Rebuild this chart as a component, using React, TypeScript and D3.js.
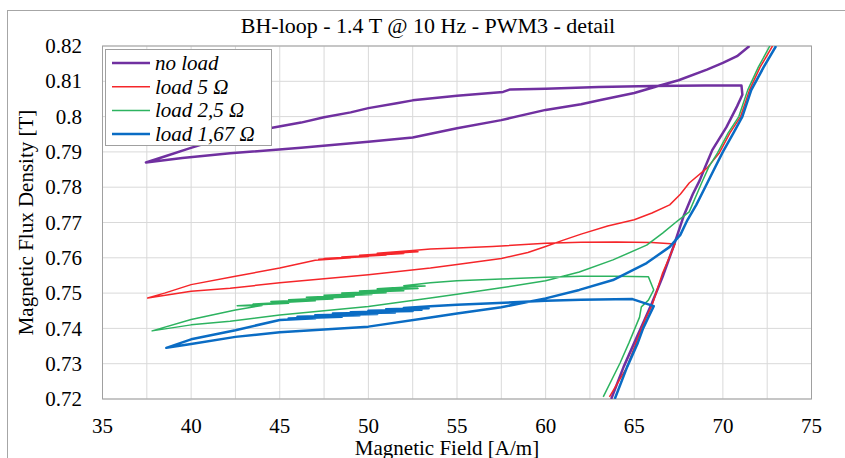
import React from 'react';
import * as d3 from 'd3';

type Pt = [number, number];

// H [A/m], B [T], in path order
const noLoad: Pt[] = [
  [63.7, 0.72], [64.4, 0.7291], [65.0, 0.7359], [65.5, 0.7415], [66.0, 0.7472], [66.6, 0.7546],
  [67.2, 0.763], [67.8, 0.772], [68.3, 0.778], [68.7, 0.782], [69.0, 0.7857], [69.4, 0.7905],
  [70.2, 0.797], [70.8, 0.8029], [71.1, 0.8062], [71.05, 0.8088],
  [69.0, 0.8088], [66.0, 0.8087], [63.0, 0.8084], [60.0, 0.8079], [58.0, 0.8077], [57.6, 0.807],
  [55.0, 0.8059], [52.5, 0.8046], [51.6, 0.8038], [50.0, 0.8024], [49.0, 0.8012], [47.5, 0.7998],
  [46.2, 0.7983], [44.5, 0.7968], [42.5, 0.7945], [41.0, 0.7927], [39.9, 0.791], [38.5, 0.7887],
  [37.45, 0.787],
  [39.5, 0.7883], [42.2, 0.7896], [46.2, 0.7912], [50.0, 0.7929], [52.5, 0.7941], [55.0, 0.7967],
  [57.5, 0.799], [60.0, 0.8019], [62.0, 0.8035], [63.1, 0.8047], [65.0, 0.8067], [66.3, 0.8086],
  [67.5, 0.8103], [69.1, 0.8133], [70.0, 0.8152], [70.8, 0.8171], [71.5, 0.82],
];

const load5: Pt[] = [
  [63.6, 0.7206], [64.6, 0.7291], [65.1, 0.7359], [65.6, 0.7424], [66.0, 0.7465], [66.6, 0.7557],
  [67.3, 0.7639],
  [66.0, 0.7643], [64.0, 0.7645], [62.0, 0.7644], [60.0, 0.7641], [57.0, 0.7632], [55.0, 0.7628],
  [53.5, 0.7625], [52.5, 0.7621], [50.5, 0.7613], [52.8, 0.7617], [49.5, 0.7607], [52.0, 0.7612],
  [48.5, 0.7602], [51.0, 0.7608], [47.5, 0.7598], [50.0, 0.7604], [47.2, 0.7596], [49.0, 0.76],
  [47.0, 0.7593], [45.0, 0.7571],
  [42.5, 0.7548], [40.0, 0.7524], [38.5, 0.75], [37.55, 0.7486],
  [40.0, 0.7505], [42.2, 0.7514], [45.0, 0.7529], [50.0, 0.7552], [53.5, 0.7571], [55.0, 0.7581],
  [57.5, 0.7598], [59.0, 0.7615], [60.0, 0.7632], [61.0, 0.765], [62.0, 0.7667], [63.5, 0.769],
  [65.0, 0.7708], [66.0, 0.7727], [67.0, 0.775], [67.6, 0.778], [68.1, 0.7812], [69.1, 0.7854],
  [69.8, 0.7897], [70.4, 0.7954], [71.0, 0.8], [71.5, 0.8075], [72.1, 0.814], [72.8, 0.82],
];

const load2_5: Pt[] = [
  [63.25, 0.7206], [64.2, 0.7302], [64.7, 0.7359], [65.3, 0.7432], [65.4, 0.7461], [65.8, 0.748],
  [66.1, 0.7509], [65.8, 0.7546],
  [64.0, 0.7548], [62.0, 0.7548], [60.0, 0.7545], [57.5, 0.754], [55.0, 0.7535], [53.5, 0.7529],
  [52.0, 0.7521], [53.2, 0.752], [50.5, 0.7512], [52.8, 0.7513], [49.5, 0.7506], [52.0, 0.7507],
  [48.5, 0.75], [51.0, 0.7501], [47.5, 0.7494], [50.2, 0.7496], [46.5, 0.7488], [49.2, 0.749],
  [45.5, 0.7481], [48.0, 0.7483], [44.5, 0.7476], [47.0, 0.7478], [43.5, 0.7469], [45.5, 0.7471],
  [42.6, 0.7464], [44.0, 0.7465], [42.5, 0.7452], [40.0, 0.7425], [37.8, 0.7393],
  [40.0, 0.741], [42.2, 0.742], [45.0, 0.7438], [50.0, 0.7462], [53.5, 0.7486], [55.0, 0.7497],
  [57.5, 0.7515], [60.0, 0.7535], [61.9, 0.756], [63.8, 0.7594], [65.7, 0.7636], [66.6, 0.767],
  [67.5, 0.7707], [68.1, 0.773], [68.8, 0.7812], [69.2, 0.7857], [69.7, 0.7897], [70.3, 0.7954],
  [70.9, 0.8], [71.4, 0.8075], [72.0, 0.814], [72.65, 0.82],
];

const load1_67: Pt[] = [
  [63.9, 0.72], [64.6, 0.7291], [65.2, 0.7359], [65.5, 0.74], [65.8, 0.7432], [66.1, 0.7463],
  [64.9, 0.7483],
  [62.0, 0.7481], [60.0, 0.7478], [57.0, 0.7471], [55.0, 0.7467], [53.5, 0.7463], [52.0, 0.7458],
  [53.4, 0.7457], [51.0, 0.7454], [53.0, 0.7453], [50.0, 0.745], [52.5, 0.7449], [49.0, 0.7446],
  [51.5, 0.7445], [48.0, 0.7442], [50.5, 0.7441], [47.0, 0.7437], [49.5, 0.7437], [46.0, 0.7433],
  [48.5, 0.7433], [45.5, 0.7428], [47.0, 0.7429], [45.0, 0.7424],
  [42.5, 0.7395], [40.0, 0.7369], [38.6, 0.7345],
  [40.0, 0.7356], [42.5, 0.7376], [45.0, 0.7389], [50.0, 0.7405], [53.5, 0.7431], [55.0, 0.7442],
  [57.5, 0.746], [60.0, 0.7485], [61.9, 0.7509], [63.8, 0.7537], [65.7, 0.7585], [67.0, 0.7631],
  [67.6, 0.7665], [68.0, 0.7707], [68.5, 0.775], [69.0, 0.78], [69.5, 0.785], [70.0, 0.79],
  [70.6, 0.7954], [71.1, 0.8], [71.6, 0.8075], [72.3, 0.814], [73.0, 0.82],
];

const seriesNames = ['no load', 'load 5 Ω', 'load 2,5 Ω', 'load 1,67 Ω'];
const seriesData = [noLoad, load5, load2_5, load1_67];
const seriesColors = ['#7030A0', '#F5262A', '#2DB360', '#0A6CC4'];
const seriesWidths = [2.5, 1.5, 1.5, 2.5];

const xTicks = [35, 40, 45, 50, 55, 60, 65, 70, 75];
const xGrid = d3.range(35, 75.01, 2.5);
const yTicks = [0.72, 0.73, 0.74, 0.75, 0.76, 0.77, 0.78, 0.79, 0.8, 0.81, 0.82];

const W = 845;
const H = 458;
const left = 102.5;
const right = 811.5;
const top = 46;
const bottom = 399;
const serif = "'Liberation Serif', 'Times New Roman', Times, Tinos, 'Noto Serif', 'DejaVu Serif', serif";

export default function App() {
  const x = d3.scaleLinear().domain([35, 75]).range([left, right]);
  const y = d3.scaleLinear().domain([0.72, 0.82]).range([bottom, top]);
  const line = d3.line<Pt>().x(d => x(d[0])).y(d => y(d[1]));

  return (
    <svg width={W} height={H} style={{ position: 'absolute', left: 0, top: 0, background: '#fff' }}
      fontFamily={serif}>
      <defs>
        <clipPath id="plot">
          <rect x={left} y={top} width={right - left} height={bottom - top} />
        </clipPath>
      </defs>
      <rect x={7.5} y={10.5} width={900} height={500} fill="#fff" stroke="#a6a6a6" />

      {/* grid */}
      {xGrid.map(v => (
        <line key={'gx' + v} x1={x(v)} x2={x(v)} y1={top} y2={bottom} stroke="#d9d9d9" strokeWidth={1} />
      ))}
      {yTicks.map(v => (
        <line key={'gy' + v} x1={left} x2={right} y1={y(v)} y2={y(v)} stroke="#d9d9d9" strokeWidth={1} />
      ))}
      <rect x={left} y={top} width={right - left} height={bottom - top} fill="none" stroke="#a0a0a0" />

      {/* series */}
      <g clipPath="url(#plot)">
        {seriesData.map((d, i) => (
          <path key={i} d={line(d) || ''} fill="none" stroke={seriesColors[i]}
            strokeWidth={seriesWidths[i]} strokeLinejoin="round" />
        ))}
      </g>

      {/* axes labels */}
      {xTicks.map(v => (
        <text key={'tx' + v} x={x(v)} y={433} textAnchor="middle" fontSize={21}>{v}</text>
      ))}
      {yTicks.map(v => (
        <text key={'ty' + v} x={82} y={y(v)} dy="0.34em" textAnchor="end" fontSize={21}>
          {d3.format('~g')(v)}
        </text>
      ))}
      <text x={428} y={33} textAnchor="middle" fontSize={22}>
        BH-loop - 1.4 T @ 10 Hz - PWM3 - detail
      </text>
      <text x={447} y={455} textAnchor="middle" fontSize={21}>Magnetic Field [A/m]</text>
      <text transform={`translate(33,${(top + bottom) / 2}) rotate(-90)`} textAnchor="middle"
        fontSize={21}>Magnetic Flux Density [T]</text>

      {/* legend */}
      <rect x={105.5} y={49.5} width={166} height={96} fill="#fff" stroke="#a0a0a0" />
      {seriesNames.map((n, i) => {
        const ly = 63 + i * 23.7;
        return (
          <g key={n}>
            <line x1={112} x2={150} y1={ly} y2={ly} stroke={seriesColors[i]} strokeWidth={seriesWidths[i]} />
            <text x={155} y={ly} dy="0.33em" fontSize={21} fontStyle="italic">{n}</text>
          </g>
        );
      })}
    </svg>
  );
}
